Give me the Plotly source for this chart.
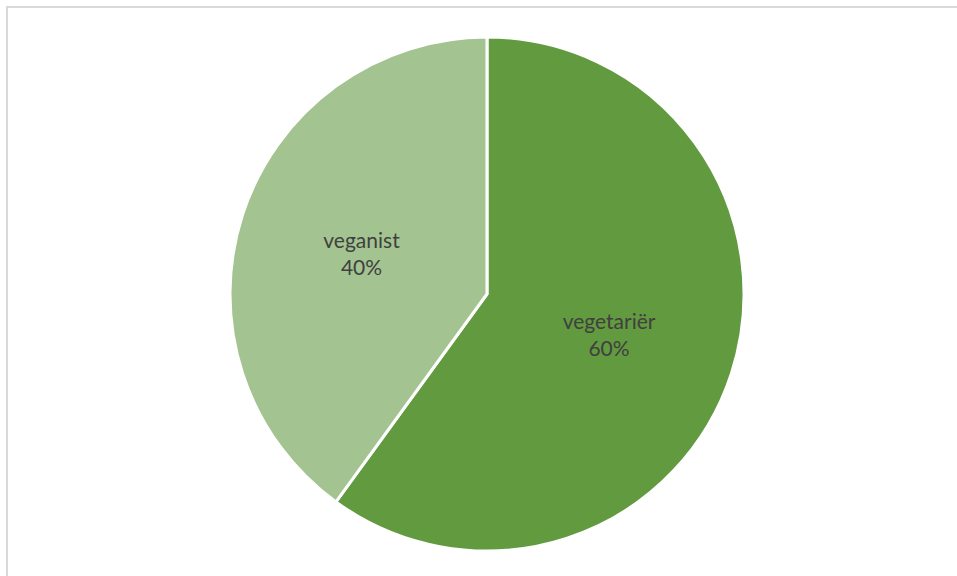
import plotly.graph_objects as go

labels = ["vegetariër", "veganist"]
values = [60, 40]
colors = ["#629A3F", "#A3C491"]

W, H = 957, 576
cx, cy, r = 487, 294, 257

fig = go.Figure(go.Pie(
    labels=labels,
    values=values,
    sort=False,
    direction="clockwise",
    rotation=0,
    marker=dict(colors=colors, line=dict(color="white", width=3)),
    textinfo="label+percent",
    textposition="inside",
    insidetextorientation="horizontal",
    texttemplate="%{label}<br>%{percent:.0%}",
    textfont=dict(family="Lato, Open Sans, sans-serif", size=21, color="#404040"),
    hoverinfo="label+percent",
    showlegend=False,
    domain=dict(x=[(cx - r) / W, (cx + r) / W], y=[1 - (cy + r) / H, 1 - (cy - r) / H]),
))

fig.update_layout(
    width=W, height=H,
    margin=dict(l=0, r=0, t=0, b=0),
    paper_bgcolor="white",
    plot_bgcolor="white",
    shapes=[dict(type="rect", xref="paper", yref="paper",
                 x0=7 / W, x1=1.05, y0=-0.05, y1=1 - 7 / H,
                 line=dict(color="#D9D9D9", width=2), fillcolor="rgba(0,0,0,0)")],
)

fig.write_html("out.html", config={"displayModeBar": False},
               post_script="document.body.style.margin='0';document.body.style.overflow='hidden';")
